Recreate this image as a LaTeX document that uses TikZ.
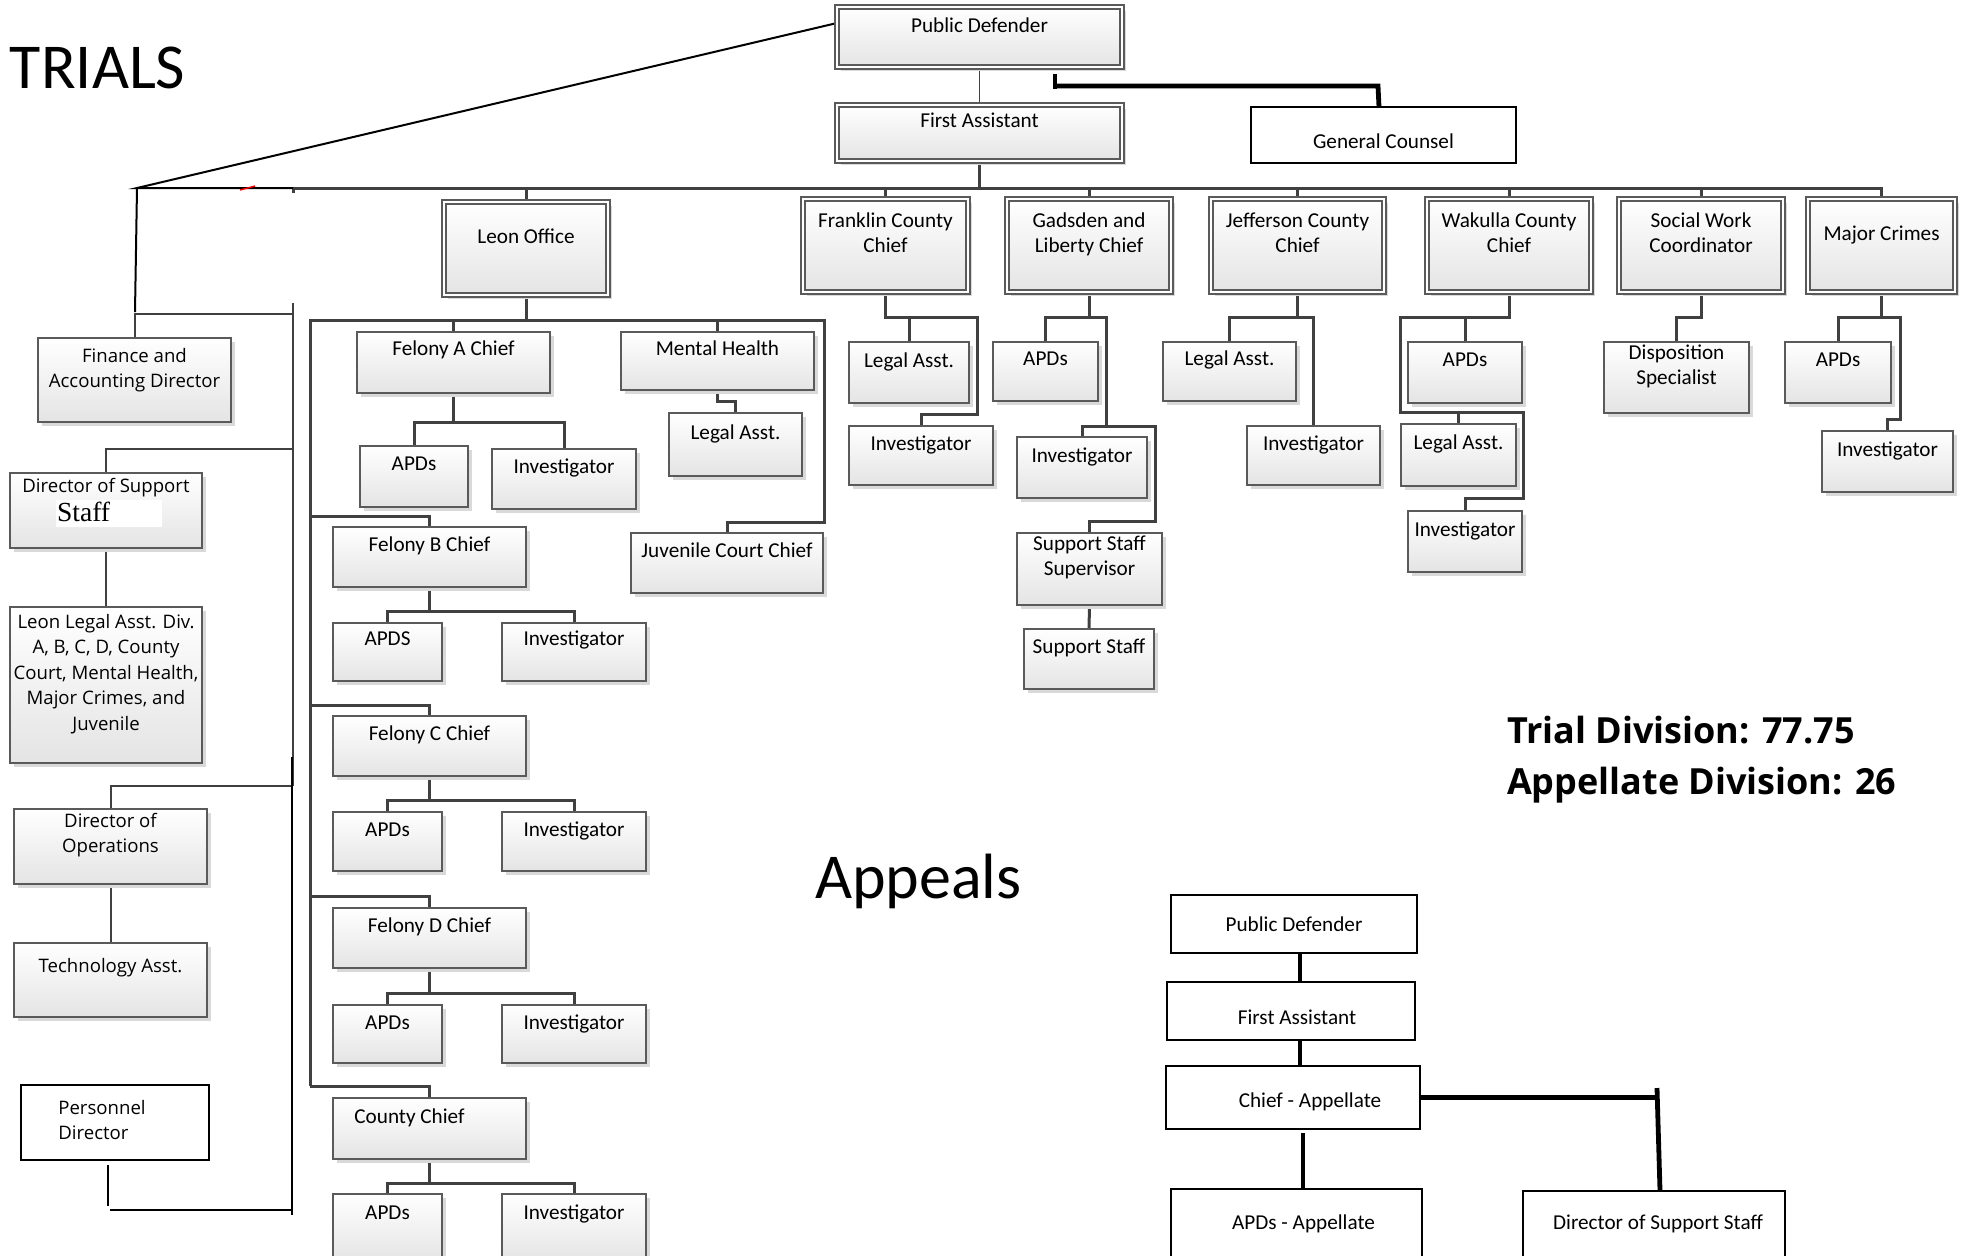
\documentclass[tikz,border=0pt]{standalone}
\usepackage{fontspec}
\setmainfont{Carlito}
\newfontfamily\osans{Open Sans}
\newfontfamily\tserif{Liberation Serif}
\usetikzlibrary{shadows,backgrounds,calc}

\definecolor{boxline}{HTML}{5A5A5A}
\definecolor{boxbot}{HTML}{E4E4E4}
\definecolor{shadowc}{HTML}{D9D9D9}
\definecolor{conc}{HTML}{404040}

% top-aligned multi-line cell
\newcommand\ml[1]{\begin{tabular}[t]{@{}c@{}}#1\end{tabular}}
% box from corner (x1,y1) to (x2,y2), in px; #7 = baseline of first line below the top
\newcommand\orgnode[8]{%
  \pgfmathsetmacro\orgW{(#5-#3)*0.5}%
  \pgfmathsetmacro\orgH{(#6-#4)*0.5}%
  \pgfmathsetmacro\orgTH{(#7)*0.5}%
  \pgfmathsetmacro\orgTD{(#6-#4-(#7))*0.5}%
  \node[#1, minimum width=\orgW pt, minimum height=\orgH pt,
        text height=\orgTH pt, text depth=\orgTD pt]
    (#2) at ({(#3+#5)/2},{(#4+#6)/2}) {#8};}

\tikzset{
  every node/.style={inner sep=0pt, outer sep=0pt},
  btxt/.style={font=\fontsize{10.6}{12.6}\selectfont},
  ltxt/.style={font=\osans\fontsize{9.3}{12.8}\selectfont},
  sbox/.style={draw=boxline, line width=0.6pt, top color=white, bottom color=boxbot,
    drop shadow={shadow xshift=1.8pt, shadow yshift=-1.8pt, fill=shadowc, opacity=1}, btxt},
  dbox/.style={sbox, double=white, double distance=1.4pt},
  lbox/.style={sbox, ltxt},
  kbox/.style={draw=black, line width=1.3pt, fill=white, btxt},
  con/.style={draw=conc, line width=1.5pt},
  thincon/.style={draw=conc, line width=0.8pt},
  lcon/.style={draw=conc, line width=1pt},
  kline/.style={draw=black, line width=1.4pt},
  kthin/.style={draw=black, line width=1pt},
  kcon/.style={draw=black, line width=2.4pt},
  bigtitle/.style={anchor=base west, font=\fontsize{32}{38}\selectfont},
  tally/.style={anchor=base west, font=\osans\bfseries\fontsize{18}{22}\selectfont},
}

\begin{document}
\begin{tikzpicture}[x=0.5pt, y=-0.5pt]
\useasboundingbox (0,0) rectangle (1963,1255);

% ---------- headings ----------
\node[bigtitle] (trials) at (10,88) {TRIALS};
\node[bigtitle] (appeals) at (815,898) {Appeals};
\node[tally] (trialdiv) at (1507,743) {Trial Division: 77.75};
\node[tally] (appdiv) at (1507,794) {Appellate Division: 26};

% ---------- top of the trial office ----------
\orgnode{dbox}{pd}{837}{7}{1122}{67}{25}{Public Defender}
\orgnode{dbox}{fa}{837}{105}{1122}{161}{22}{First Assistant}
\orgnode{kbox}{gc}{1251}{107}{1516}{163}{41}{General Counsel}
\orgnode{dbox}{leon}{444}{202}{608}{295}{41}{Leon Office}
\orgnode{dbox}{fr}{803}{199}{968}{292}{28}{\ml{Franklin County\\Chief}}
\orgnode{dbox}{gad}{1007}{199}{1171}{292}{28}{\ml{Gadsden and\\Liberty Chief}}
\orgnode{dbox}{jef}{1211}{199}{1384}{292}{28}{\ml{Jefferson County\\Chief}}
\orgnode{dbox}{wak}{1427}{199}{1591}{292}{28}{\ml{Wakulla County\\Chief}}
\orgnode{dbox}{sw}{1619}{199}{1783}{292}{28}{\ml{Social Work\\Coordinator}}
\orgnode{dbox}{mc}{1808}{199}{1955}{292}{41}{Major Crimes}

% ---------- Leon office ----------
\orgnode{sbox}{faA}{357}{332}{550}{393}{23}{Felony A Chief}
\orgnode{sbox}{aApd}{360}{446}{468}{507}{24}{APDs}
\orgnode{sbox}{aInv}{492}{449}{636}{509}{24}{Investigator}
\orgnode{sbox}{mh}{621}{332}{814}{390}{23}{Mental Health}
\orgnode{sbox}{mhLa}{669}{413}{802}{476}{26}{Legal Asst.}
\orgnode{sbox}{juv}{631}{533}{823}{593}{24}{Juvenile Court Chief}
\orgnode{sbox}{fb}{333}{527}{526}{587}{24}{Felony B Chief}
\orgnode{sbox}{bApd}{333}{623}{442}{681}{22}{APDS}
\orgnode{sbox}{bInv}{502}{623}{646}{681}{22}{Investigator}
\orgnode{sbox}{fc}{333}{716}{526}{776}{24}{Felony C Chief}
\orgnode{sbox}{cApd}{333}{812}{442}{871}{24}{APDs}
\orgnode{sbox}{cInv}{502}{812}{646}{871}{24}{Investigator}
\orgnode{sbox}{fd}{333}{908}{526}{968}{24}{Felony D Chief}
\orgnode{sbox}{dApd}{333}{1005}{442}{1063}{24}{APDs}
\orgnode{sbox}{dInv}{502}{1005}{646}{1063}{24}{Investigator}
\orgnode{sbox}{cc}{333}{1098}{526}{1159}{25}{County Chief\hspace*{20pt}}
\orgnode{sbox}{ccApd}{333}{1194}{442}{1262}{25}{APDs}
\orgnode{sbox}{ccInv}{502}{1194}{646}{1262}{25}{Investigator}

% ---------- county offices ----------
\orgnode{sbox}{frLa}{849}{342}{969}{403}{25}{Legal Asst.}
\orgnode{sbox}{frInv}{849}{426}{993}{485}{24}{Investigator}
\orgnode{sbox}{gadApd}{993}{342}{1098}{401}{23}{APDs}
\orgnode{sbox}{gadInv}{1017}{437}{1147}{498}{25}{Investigator}
\orgnode{sbox}{sss}{1017}{533}{1162}{605}{17}{\ml{Support Staff\\Supervisor}}
\orgnode{sbox}{ss}{1024}{629}{1154}{689}{24}{Support Staff}
\orgnode{sbox}{jefLa}{1163}{342}{1296}{401}{23}{Legal Asst.}
\orgnode{sbox}{jefInv}{1247}{426}{1380}{485}{24}{Investigator}
\orgnode{sbox}{wakApd}{1408}{342}{1522}{403}{24}{APDs}
\orgnode{sbox}{wakLa}{1401}{424}{1516}{486}{25}{Legal Asst.}
\orgnode{sbox}{wakInv}{1408}{511}{1522}{572}{25}{Investigator}
\orgnode{sbox}{disp}{1604}{342}{1749}{413}{17}{\ml{Disposition\\Specialist}}
\orgnode{sbox}{mcApd}{1785}{342}{1891}{403}{24}{APDs}
\orgnode{sbox}{mcInv}{1822}{431}{1953}{492}{25}{Investigator}

% ---------- administration column ----------
\orgnode{lbox}{fin}{38}{338}{231}{422}{24}{\ml{Finance and\\Accounting Director}}
\orgnode{lbox}{dss}{10}{473}{202}{548}{19}{Director of Support}
\node[fill=white, anchor=north west, minimum width=53pt, minimum height=13.5pt] (staffbg) at (56,500) {};
\node[anchor=base west, font=\tserif\fontsize{13.8}{16}\selectfont] (staff) at (57,521) {Staff};
\orgnode{lbox}{leg}{10}{607}{202}{763}{21}{\ml{Leon Legal Asst. Div.\\A, B, C, D, County\\Court, Mental Health,\\Major Crimes, and\\Juvenile}}
\orgnode{lbox}{dop}{14}{809}{207}{884}{18}{\ml{Director of\\Operations}}
\orgnode{lbox}{tech}{14}{943}{207}{1017}{29}{Technology Asst.}
\orgnode{kbox,ltxt}{pers}{21}{1085}{209}{1160}{29}{\begin{tabular}[t]{@{}l@{}}Personnel\\Director\end{tabular}\hspace*{13pt}}

% ---------- appellate office ----------
\orgnode{kbox}{apd}{1171}{895}{1417}{953}{36}{Public Defender}
\orgnode{kbox}{afa}{1167}{982}{1415}{1040}{42}{\hspace*{6pt}First Assistant}
\orgnode{kbox}{ach}{1166}{1066}{1420}{1129}{41}{\hspace*{17pt}Chief - Appellate}
\orgnode{kbox}{aapd}{1171}{1189}{1422}{1262}{40}{\hspace*{7pt}APDs - Appellate}
\orgnode{kbox}{adss}{1523}{1191}{1785}{1262}{38}{\hspace*{4pt}Director of Support Staff}

% junction points
\coordinate (corner) at (137,188);
\coordinate (busL) at (293,188);
\coordinate (lvtop) at (293,303);
\coordinate (lvbot) at (293,786);
\coordinate (kvtop) at (292,757);
\coordinate (kvbot) at (292,1215);
\coordinate (lbusL) at (310,320);
\coordinate (lbusR) at (824,320);
\coordinate (gcstub) at (1055,74);
\coordinate (ajoint) at (1657,1088);

\draw[red, line width=0.7pt] (240,190) -- (255,186);

\begin{scope}[on background layer]
\fill[white] (0,0) rectangle (1963,1255);

% top chain and main bus
\draw[thincon] (pd.south) -- (fa.north);
\draw[con] (fa.south) -- (fa.south |- busL);
\draw[con] (busL) -- (mc.north |- busL) -- (mc.north);
\draw[con] (busL) -- ++(0,5);
\foreach \n in {leon,fr,gad,jef,wak,sw} \draw[con] (\n.north) -- (\n.north |- busL);
\draw[kcon] (gcstub) -- ++(0,15);
\draw[kcon] (gcstub |- 0,86) -- (1378,86) -- (gc.north -| 1379,0);

% administration column
\draw[kthin] (pd.west |- 0,23) -- (corner) -- (busL);
\draw[kthin] (corner) -- (135,312);
\draw[lcon] (lvtop) -- (lvbot);
\draw[lcon] (fin.north) |- (lvtop |- 0,314);
\draw[lcon] (dss.north) |- (lvtop |- 0,449);
\draw[lcon] (dss.south) -- (leg.north);
\draw[lcon] (dop.north) |- (lvbot);
\draw[lcon] (dop.south) -- (tech.north);
\draw[kline] (kvtop) -- (kvbot);
\draw[kline] ($(pers.south)+(-7,5)$) -- ($(pers.south)+(-7,46)$);
\draw[kline] ($(pers.south)+(-5,50)$) -- (kvbot |- 0,1210);

% Leon office
\draw[con] (leon.south) -- (leon.south |- lbusL);
\draw[con] (lbusL |- 0,1086) -- (lbusL) -- (lbusR) -- (lbusR |- 0,522) -| (juv.north);
\draw[con] (faA.north) -- (faA.north |- lbusL);
\draw[con] (mh.north) -- (mh.north |- lbusL);
\draw[con] (mh.south) -- (mh.south |- 0,401) -| (mhLa.north);
\draw[con] (lbusL |- 0,516) -| (fb.north);
\draw[con] (lbusL |- 0,705) -| (fc.north);
\draw[con] (lbusL |- 0,896) -| (fd.north);
\draw[con] (lbusL |- 0,1086) -| (cc.north);
\foreach \c/\y/\p/\q in {faA/422/aApd/aInv, fb/611/bApd/bInv, fc/800/cApd/cInv,
                        fd/993/dApd/dInv, cc/1183/ccApd/ccInv}{
  \draw[con] (\c.south) -- (\c.south |- 0,\y);
  \draw[con] (\p.north) |- (\q.north |- 0,\y) -- (\q.north);
}

% Franklin
\draw[con] (fr.south) |- (977,317) -- (977,414) -| (frInv.north);
\draw[con] (frLa.north) -- (frLa.north |- 0,317);
% Gadsden and Liberty
\draw[con] (gad.south) -- (gad.south |- 0,317) -| (gadApd.north);
\draw[con] (gad.south |- 0,317) -- (1106,317) -- (1106,426) -| (gadInv.north);
\draw[con] (1106,426) -- (1155,426) -- (1155,521) -| (sss.north);
\draw[con] (sss.south) -- (ss.north);
% Jefferson
\draw[con] (jef.south) -- (jef.south |- 0,317);
\draw[con] (jefLa.north) |- (jefInv.north |- 0,317) -- (jefInv.north);
% Wakulla
\draw[con] (wak.south) |- (1400,317) -- (1400,412) -- (1523,412) -- (1523,498) -| (wakInv.north);
\draw[con] (wakApd.north) -- (wakApd.north |- 0,317);
\draw[con] (wakLa.north) -- (wakLa.north |- 0,412);
% Social work
\draw[con] (sw.south) -- (sw.south |- 0,317) -| (disp.north);
% Major crimes
\draw[con] (mc.south) -- (mc.south |- 0,317) -| (mcApd.north);
\draw[con] (mc.south |- 0,317) -- (1900,317) -- (1900,419) -| (mcInv.north);

% appellate office
\draw[kcon] (apd.south -| 1300,0) -- (afa.north -| 1300,0);
\draw[kcon] (afa.south -| 1300,0) -- (ach.north -| 1300,0);
\draw[kcon] ($(ach.south -| 1303,0)+(0,4)$) -- (aapd.north -| 1303,0);
\draw[kcon] (ach.east) -- (ach.east -| ajoint);
\draw[kcon] (ajoint) -- (adss.north -| 1660,0);
\end{scope}
\end{tikzpicture}
\end{document}
